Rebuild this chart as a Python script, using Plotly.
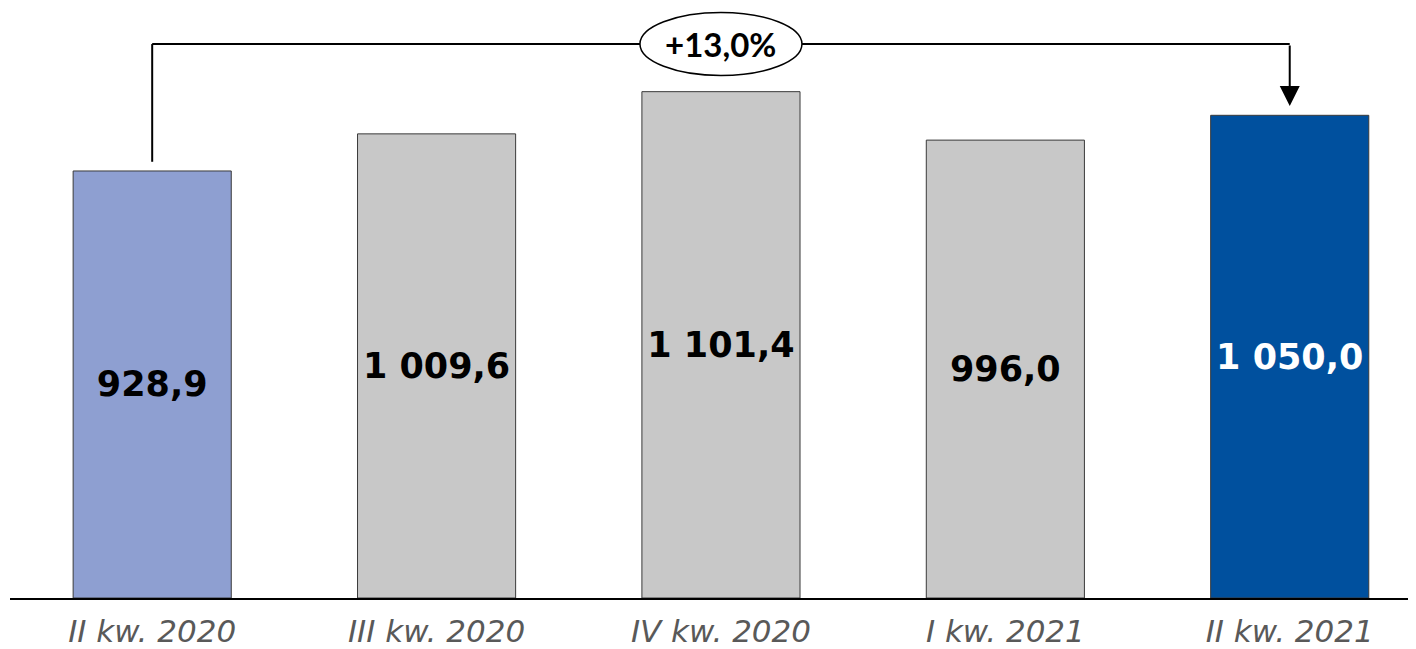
import plotly.graph_objects as go

categories = ["II kw. 2020", "III kw. 2020", "IV kw. 2020", "I kw. 2021", "II kw. 2021"]
values = [928.9, 1009.6, 1101.4, 996.0, 1050.0]
bar_colors = ["#8E9FD1", "#C8C8C8", "#C8C8C8", "#C8C8C8", "#00509E"]
text_colors = ["#000000", "#000000", "#000000", "#000000", "#FFFFFF"]
change_label = "+13,0%"

CONNECTOR_Y = 1205
GAP = 20

fig = go.Figure()
fig.add_trace(go.Bar(
    x=list(range(len(categories))),
    y=values,
    marker=dict(color=bar_colors, line=dict(color="#3A3A3A", width=1)),
    texttemplate="%{y:,.1f}",
    textposition="inside",
    insidetextanchor="middle",
    constraintext="none",
    textfont=dict(family="DejaVu Sans", size=35, color=text_colors, weight="bold"),
    hoverinfo="skip",
))

first_idx, last_idx = 0, len(values) - 1
mid = (first_idx + last_idx) / 2

shapes = [
    dict(type="line", xref="x", yref="y", x0=first_idx, x1=first_idx,
         y0=values[first_idx] + GAP, y1=CONNECTOR_Y, line=dict(color="black", width=2)),
    dict(type="line", xref="x", yref="y", x0=first_idx, x1=last_idx,
         y0=CONNECTOR_Y, y1=CONNECTOR_Y, line=dict(color="black", width=2)),
    dict(type="circle", xref="x", yref="y", xsizemode="pixel", ysizemode="pixel",
         xanchor=mid, yanchor=CONNECTOR_Y, x0=-81, x1=81, y0=-31.5, y1=31.5,
         fillcolor="white", line=dict(color="black", width=1.5)),
]

annotations = [
    dict(x=last_idx, y=values[last_idx] + GAP, ax=last_idx, ay=CONNECTOR_Y,
         xref="x", yref="y", axref="x", ayref="y", text="", showarrow=True,
         arrowhead=2, arrowsize=2, arrowwidth=2, arrowcolor="black"),
    dict(x=mid, y=CONNECTOR_Y, xref="x", yref="y", text=change_label, showarrow=False,
         font=dict(family="Lato", size=33, color="black", weight="bold")),
]

fig.update_layout(
    width=1408, height=641,
    margin=dict(l=2, r=0, t=0, b=51),
    paper_bgcolor="white", plot_bgcolor="white",
    separators=", ",
    bargap=0.444,
    showlegend=False,
    shapes=shapes,
    annotations=annotations,
    xaxis=dict(
        range=[-0.5, 4.444],
        tickmode="array",
        tickvals=list(range(len(categories))),
        ticktext=categories,
        tickfont=dict(family="DejaVu Sans", size=31, color="#595959", style="italic"),
        ticks="",
        ticklabelstandoff=5,
        showline=True, linecolor="black", linewidth=2,
        showgrid=False, zeroline=False,
        automargin=False,
    ),
    yaxis=dict(
        range=[0, 1283.4],
        visible=False,
        showgrid=False, zeroline=False,
        automargin=False,
    ),
)

fig.write_html("out.html")
